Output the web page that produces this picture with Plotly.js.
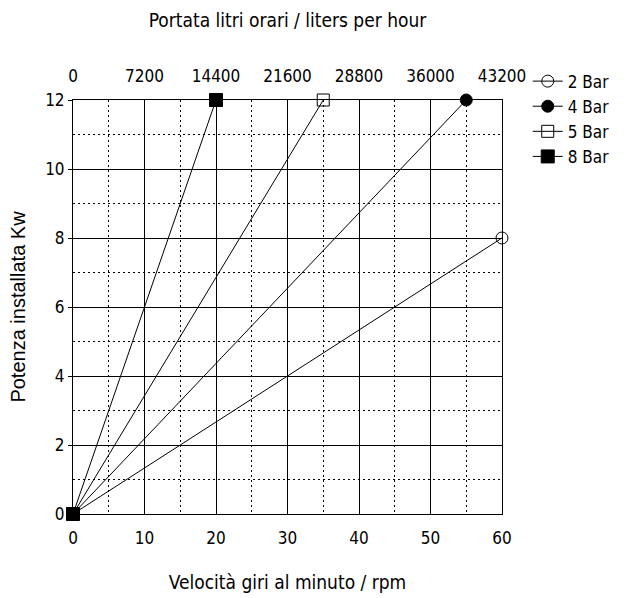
<!DOCTYPE html>
<html><head><meta charset="utf-8">
<script src="https://cdn.plot.ly/plotly-3.0.1.min.js"></script>
<style>html,body{margin:0;padding:0;background:#fff}</style>
</head><body><div id="chart" style="width:633px;height:598px"></div>
<script>
const seriesNames = ["2 Bar", "4 Bar", "5 Bar", "8 Bar"];
const rpm2 = [0, 60], kw2 = [0, 8];
const rpm4 = [0, 55], kw4 = [0, 12];
const rpm5 = [0, 35], kw5 = [0, 12];
const rpm8 = [0, 20], kw8 = [0, 12];
const topTicks = [0, 7200, 14400, 21600, 28800, 36000, 43200];

const narrow = "DejaVu Sans Condensed, Liberation Sans Narrow, sans-serif";
const mk = (x, y, name, symbol, size) => ({
  type: "scatter", mode: "lines+markers", x, y, name,
  line: {color: "black", width: 1},
  marker: {symbol, size, color: "black", line: {color: "black", width: 1}},
  cliponaxis: false
});
const traces = [
  mk(rpm2, kw2, seriesNames[0], "circle-open", 12),
  mk(rpm4, kw4, seriesNames[1], "circle", 12),
  mk(rpm5, kw5, seriesNames[2], "square-open", 12),
  mk(rpm8, kw8, seriesNames[3], "square", 13),
  {type: "scatter", mode: "markers", x: [topTicks[0], topTicks[topTicks.length-1]], y: [0, 0],
   xaxis: "x2", showlegend: false, hoverinfo: "skip", marker: {opacity: 0}}
];
const dotDash = "2px,3px";
const layout = {
  width: 633, height: 598,
  margin: {l: 73, r: 131, t: 100, b: 84},
  paper_bgcolor: "white", plot_bgcolor: "white",
  font: {family: narrow, size: 17, color: "black"},
  showlegend: true,
  legend: {x: 1.06, y: 1.088, xanchor: "left", yanchor: "top",
    font: {family: narrow, size: 17, color: "black"}, tracegroupgap: 0, itemwidth: 30},
  xaxis: {range: [0, 60], dtick: 10, tick0: 0, showgrid: true, gridcolor: "black", gridwidth: 1,
    minor: {dtick: 5, showgrid: true, gridcolor: "black", griddash: dotDash, gridwidth: 1},
    showline: true, linecolor: "black", linewidth: 1, mirror: true, zeroline: false,
    ticks: "", tickfont: {family: narrow, size: 17}, ticklabelstandoff: 9,
    title: {text: "Velocità giri al minuto / rpm", font: {family: narrow, size: 19}, standoff: 28}},
  xaxis2: {overlaying: "x", side: "top", range: [0, 43200], tickvals: topTicks,
    ticktext: topTicks.map(String),
    showgrid: false, zeroline: false, showline: false, ticks: "", ticklabelstandoff: 14,
    tickfont: {family: narrow, size: 17},
    title: {text: "Portata litri orari / liters per hour", font: {family: narrow, size: 19}, standoff: 32}},
  yaxis: {range: [0, 12], dtick: 2, tick0: 0, showgrid: true, gridcolor: "black", gridwidth: 1,
    minor: {dtick: 1, showgrid: true, gridcolor: "black", griddash: dotDash, gridwidth: 1},
    showline: true, linecolor: "black", linewidth: 1, mirror: true, zeroline: false,
    ticks: "outside", ticklen: 4, tickcolor: "black", tickfont: {family: narrow, size: 17},
    title: {text: "Potenza installata Kw", font: {family: "Liberation Sans, Arial, sans-serif", size: 20}, standoff: 14}}
};
Plotly.newPlot("chart", traces, layout, {displayModeBar: false, staticPlot: true});
</script></body></html>
